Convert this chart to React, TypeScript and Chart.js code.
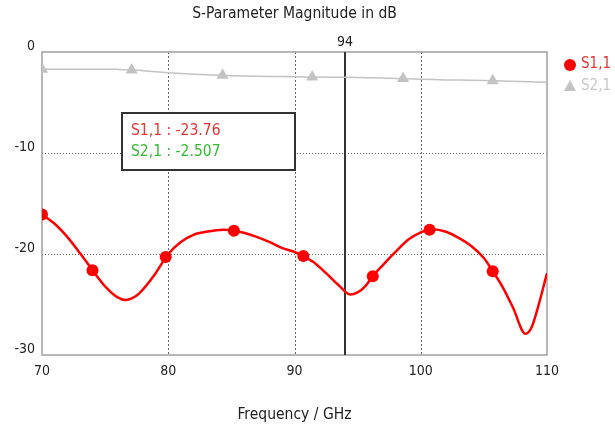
import React, { useEffect, useRef } from "react";
import { Chart, registerables } from "chart.js";

Chart.register(...registerables);

const s11Freq = [70, 71, 72, 73, 74, 75, 76, 76.6, 77.5, 78, 79, 80, 81, 82, 83, 84.4, 85.2, 86, 87, 88, 89, 90, 90.7, 91.5, 92.5, 93.5, 94.4, 95, 95.6, 96.2, 97, 98, 99, 100, 100.9, 102, 103, 104, 105, 105.7, 106.5, 107.3, 108.3, 108.8, 109.3, 110];
const s11Values = [-16.1, -17.0, -18.3, -19.9, -21.6, -23.2, -24.3, -24.55, -24.1, -23.5, -21.9, -20.0, -18.8, -18.1, -17.8, -17.6, -17.7, -17.9, -18.3, -18.8, -19.4, -19.8, -20.2, -20.8, -21.9, -23.1, -24.0, -23.8, -23.2, -22.2, -21.1, -19.8, -18.6, -17.85, -17.55, -17.8, -18.4, -19.2, -20.4, -21.7, -23.3, -25.3, -27.9, -27.2, -25.2, -21.9];
const s11MarkerFreq = [70, 74, 79.8, 85.2, 90.7, 96.2, 100.7, 105.7];
const s11MarkerValues = [-16.1, -21.6, -20.3, -17.7, -20.2, -22.2, -17.6, -21.7];

const s21Freq = [70, 72, 74, 76, 77, 78, 80, 82, 84, 86, 88, 90, 92, 94, 96, 98, 100, 102, 104, 106, 108, 110];
const s21Values = [-1.7, -1.7, -1.7, -1.72, -1.75, -1.85, -2.05, -2.2, -2.3, -2.38, -2.42, -2.45, -2.48, -2.507, -2.55, -2.62, -2.7, -2.76, -2.8, -2.85, -2.93, -3.0];
const s21MarkerFreq = [70, 77.1, 84.3, 91.4, 98.6, 105.7];
const s21MarkerValues = [-1.7, -1.77, -2.3, -2.47, -2.63, -2.85];

const xTicks = [70, 80, 90, 100, 110];
const yTicks = [0, -10, -20, -30];
const gridX = [80, 90, 100];
const gridY = [-10, -20];
const markerFreq = 94;
const readoutLabels = ["S1,1 : -23.76", "S2,1 : -2.507"];
const seriesNames = ["S1,1", "S2,1"];
const chartTitle = "S-Parameter Magnitude in dB";
const xTitle = "Frequency / GHz";

const RED = "#ff0000";
const GRAY = "#c3c3c3";
const FONT = "'DejaVu Sans Condensed', 'DejaVu Sans', sans-serif";

const toXY = (xs: number[], ys: number[]) => xs.map((x, i) => ({ x, y: ys[i] }));

const decorPlugin = {
  id: "decor",
  beforeDatasetsDraw(chart: any) {
    const { ctx, chartArea: a, scales } = chart;
    const xs = scales.x, ys = scales.y;
    ctx.save();
    ctx.strokeStyle = "#666";
    ctx.lineWidth = 1;
    ctx.setLineDash([2, 2]);
    gridX.forEach((v) => {
      const px = Math.round(xs.getPixelForValue(v)) + 0.5;
      ctx.beginPath(); ctx.moveTo(px, a.top); ctx.lineTo(px, a.bottom); ctx.stroke();
    });
    ctx.setLineDash([1, 2]);
    gridY.forEach((v) => {
      const py = Math.round(ys.getPixelForValue(v)) + 0.5;
      ctx.beginPath(); ctx.moveTo(a.left, py); ctx.lineTo(a.right, py); ctx.stroke();
    });
    ctx.setLineDash([]);
    ctx.strokeStyle = "#a0a0a0";
    ctx.lineWidth = 1.5;
    ctx.strokeRect(a.left, a.top, a.right - a.left, a.bottom - a.top);
    const mx = Math.round(xs.getPixelForValue(markerFreq));
    ctx.strokeStyle = "#333";
    ctx.lineWidth = 2;
    ctx.beginPath(); ctx.moveTo(mx, a.top); ctx.lineTo(mx, a.bottom); ctx.stroke();
    ctx.fillStyle = "#222";
    ctx.font = `14px ${FONT}`;
    ctx.textAlign = "center";
    ctx.textBaseline = "middle";
    ctx.fillText(String(markerFreq), mx, a.top - 10);
    ctx.restore();
  },
  afterDatasetsDraw(chart: any) {
    const { ctx, chartArea: a } = chart;
    ctx.save();
    ctx.fillStyle = "#222";
    ctx.font = `15.5px ${FONT}`;
    ctx.textAlign = "center";
    ctx.textBaseline = "middle";
    const cx = (a.left + a.right) / 2;
    ctx.fillText(chartTitle, cx, 14);
    ctx.fillText(xTitle, cx, 415);
    ctx.fillStyle = "#fff";
    ctx.fillRect(122, 113, 173, 57);
    ctx.strokeStyle = "#333";
    ctx.lineWidth = 2;
    ctx.strokeRect(122, 113, 173, 57);
    ctx.font = `15.5px ${FONT}`;
    ctx.textAlign = "left";
    ctx.fillStyle = "#e53535";
    ctx.fillText(readoutLabels[0], 131, 131);
    ctx.fillStyle = "#35b835";
    ctx.fillText(readoutLabels[1], 131, 152);
    ctx.fillStyle = RED;
    ctx.beginPath(); ctx.arc(570, 65, 6, 0, Math.PI * 2); ctx.fill();
    ctx.fillStyle = GRAY;
    ctx.beginPath();
    ctx.moveTo(570, 80); ctx.lineTo(576, 91); ctx.lineTo(564, 91); ctx.closePath(); ctx.fill();
    ctx.font = `15px ${FONT}`;
    ctx.fillStyle = "#e53535";
    ctx.fillText(seriesNames[0], 581, 64);
    ctx.fillStyle = "#c8c8c8";
    ctx.fillText(seriesNames[1], 581, 86);
    ctx.restore();
  },
};

export default function App() {
  const ref = useRef<HTMLCanvasElement>(null);
  useEffect(() => {
    if (!ref.current) return;
    const chart = new Chart(ref.current, {
      type: "line",
      data: {
        datasets: [
          { label: "S2,1 line", data: toXY(s21Freq, s21Values), borderColor: GRAY, borderWidth: 1.5, pointRadius: 0, tension: 0.3, order: 4 },
          { label: "S2,1", data: toXY(s21MarkerFreq, s21MarkerValues), showLine: false, pointStyle: "triangle", pointRadius: 7, backgroundColor: GRAY, borderColor: GRAY, borderWidth: 0, order: 3 },
          { label: "S1,1 line", data: toXY(s11Freq, s11Values), borderColor: RED, borderWidth: 2.5, pointRadius: 0, cubicInterpolationMode: "monotone", order: 2 },
          { label: "S1,1", data: toXY(s11MarkerFreq, s11MarkerValues), showLine: false, pointStyle: "circle", pointRadius: 6, backgroundColor: RED, borderColor: RED, borderWidth: 0, order: 1 },
        ],
      },
      options: {
        animation: false,
        responsive: false,
        devicePixelRatio: 1,
        layout: { padding: { left: 0, top: 52, right: 68, bottom: 0 } },
        plugins: { legend: { display: false }, tooltip: { enabled: false }, title: { display: false } },
        scales: {
          x: {
            type: "linear", min: 70, max: 110,
            afterFit: (s: any) => { s.height = 70; },
            afterBuildTicks: (s: any) => { s.ticks = xTicks.map((v) => ({ value: v })); },
            grid: { display: false, drawTicks: false }, border: { display: false },
            ticks: { padding: 8, color: "#222", font: { size: 14, family: FONT } },
          },
          y: {
            type: "linear", min: -30, max: 0,
            afterFit: (s: any) => { s.width = 42; },
            afterBuildTicks: (s: any) => { s.ticks = yTicks.map((v) => ({ value: v })); },
            grid: { display: false, drawTicks: false }, border: { display: false },
            ticks: { padding: 7, labelOffset: -6, color: "#222", font: { size: 14, family: FONT } },
          },
        },
      },
      plugins: [decorPlugin],
    } as any);
    return () => chart.destroy();
  }, []);
  return (
    <div style={{ position: "fixed", left: 0, top: 0, width: 615, height: 425, background: "#fff" }}>
      <canvas ref={ref} width={615} height={425} />
    </div>
  );
}
